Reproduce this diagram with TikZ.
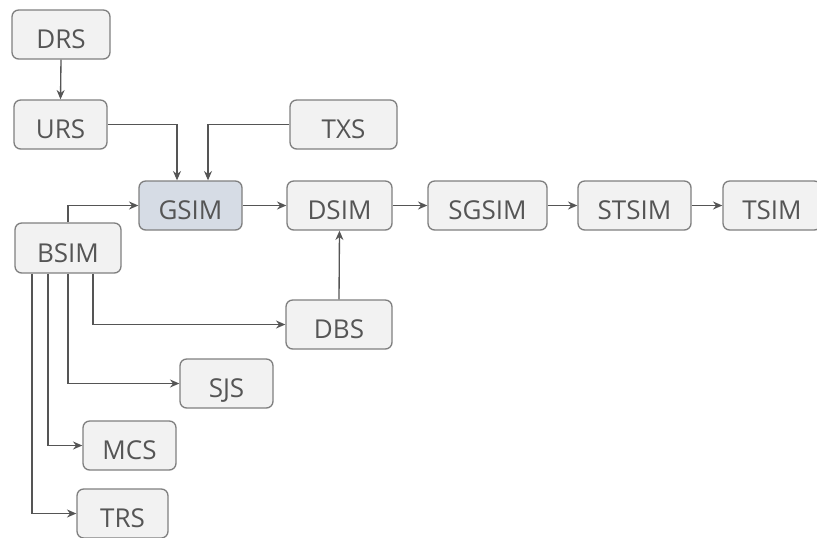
\documentclass[tikz,border=0pt]{standalone}
\usepackage{fontspec}
\setmainfont{Open Sans}
\usetikzlibrary{arrows.meta,calc}
\definecolor{boxfill}{HTML}{F2F2F2}
\definecolor{boxline}{HTML}{7F7F7F}
\definecolor{gsimfill}{HTML}{D6DCE5}
\definecolor{txtcol}{HTML}{555555}
\definecolor{arrcol}{HTML}{555555}
\begin{document}
\begin{tikzpicture}[x=0.75pt,y=-0.75pt,
  blk/.style={draw=boxline, fill=boxfill, rounded corners=5pt, line width=1pt,
    minimum height=36.75pt, inner sep=0pt, text=txtcol, text height=21pt, text depth=0pt,
    font=\fontsize{19.5}{22}\selectfont},
  conn/.style={draw=arrcol, line width=1pt, -{Stealth[length=7pt,width=6pt]}}]
\useasboundingbox (0,0) rectangle (817,537);
\node[blk, minimum width=73.5pt] (DRS) at (61,34.5) {DRS};
\node[blk, minimum width=69.75pt] (URS) at (60.5,124.5) {URS};
\node[blk, minimum width=80.25pt] (TXS) at (343.5,124.5) {TXS};
\node[blk, minimum width=77.25pt, fill=gsimfill] (GSIM) at (190.5,205.5) {GSIM};
\node[blk, minimum width=78.75pt] (DSIM) at (339.5,205.5) {DSIM};
\node[blk, minimum width=89.25pt] (SGSIM) at (487.5,205.5) {SGSIM};
\node[blk, minimum width=84.75pt] (STSIM) at (634.5,205.5) {STSIM};
\node[blk, minimum width=73.5pt] (TSIM) at (772,205.5) {TSIM};
\node[blk, minimum width=79.5pt, minimum height=37.5pt] (BSIM) at (68,248) {BSIM};
\node[blk, minimum width=79.5pt] (DBS) at (339,324.5) {DBS};
\node[blk, minimum width=69.75pt] (SJS) at (226.5,383.5) {SJS};
\node[blk, minimum width=69.75pt] (MCS) at (129.5,445.5) {MCS};
\node[blk, minimum width=68.25pt] (TRS) at (122.5,513.5) {TRS};
\coordinate (gin1) at ($(GSIM.north)+(-13.5,0)$);
\coordinate (gin2) at ($(GSIM.north)+(17.5,0)$);
\coordinate (b1) at ($(BSIM.south)+(-36,0)$);
\coordinate (b2) at ($(BSIM.south)+(-20,0)$);
\coordinate (b4) at ($(BSIM.south)+(25,0)$);
\draw[conn] (DRS.south) -- (URS.north);
\draw[conn] (URS.east) -| (gin1);
\draw[conn] (TXS.west) -| (gin2);
\draw[conn] (BSIM.north) |- (GSIM.west);
\draw[conn] (GSIM.east) -- (DSIM.west);
\draw[conn] (DSIM.east) -- (SGSIM.west);
\draw[conn] (SGSIM.east) -- (STSIM.west);
\draw[conn] (STSIM.east) -- (TSIM.west);
\draw[conn] (DBS.north) -- (DSIM.south);
\draw[conn] (b4) |- (DBS.west);
\draw[conn] (BSIM.south) |- (SJS.west);
\draw[conn] (b2) |- (MCS.west);
\draw[conn] (b1) |- (TRS.west);
\end{tikzpicture}
\end{document}
